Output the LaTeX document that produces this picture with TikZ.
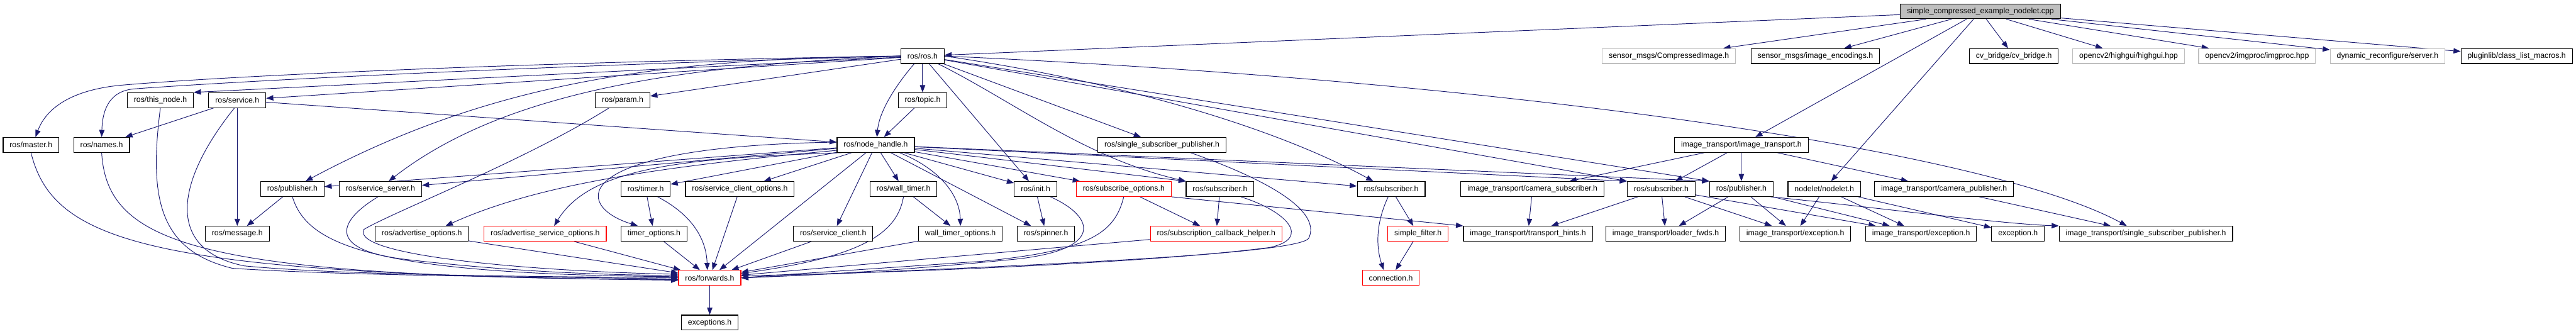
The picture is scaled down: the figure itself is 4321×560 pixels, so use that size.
\documentclass[tikz,border=0pt]{standalone}
\usepackage{fontspec}
\setmainfont{Liberation Sans}
\usepackage{xcolor}
\usepackage{tikz}
\usetikzlibrary{arrows.meta, backgrounds}

\definecolor{edgeblue}{RGB}{25,25,112}
\definecolor{boxred}{RGB}{255,0,0}
\definecolor{boxgray}{RGB}{191,191,191}

\begin{document}
\begin{tikzpicture}[x=1pt, y=1pt,
    file/.style={draw=black, line width=1.2pt, fill=white, inner xsep=11pt, inner ysep=0pt,
        minimum height=25pt, font=\fontsize{13}{15}\selectfont},
    redfile/.style={file, draw=boxred},
    extfile/.style={file, draw=boxgray},
    topfile/.style={file, fill=boxgray},
    incl/.style={draw=edgeblue, line width=1pt, -{Triangle[length=12pt,width=9pt]}}]

    % Kich thuoc toan hinh
    \useasboundingbox (0,0) rectangle (4321,560);

    % Tep nguon o tren cung
    \node[topfile] (main) at (3322,541) {simple\_compressed\_example\_nodelet.cpp};

    % Hang 1
    \node[file]    (rosh) at (1547.5,466) {ros/ros.h};
    \node[extfile] (cimg) at (2799.5,466) {sensor\_msgs/CompressedImage.h};
    \node[file]    (enc)  at (3045,466)   {sensor\_msgs/image\_encodings.h};
    \node[file]    (cvb)  at (3378,466)   {cv\_bridge/cv\_bridge.h};
    \node[extfile] (hgui) at (3570.5,466) {opencv2/highgui/highgui.hpp};
    \node[extfile] (imgp) at (3786,466)   {opencv2/imgproc/imgproc.hpp};
    \node[extfile] (dyn)  at (4005,466)   {dynamic\_reconfigure/server.h};
    \node[file]    (plug) at (4221.5,466) {pluginlib/class\_list\_macros.h};

    % Hang 2
    \node[file] (thisn) at (269,392)    {ros/this\_node.h};
    \node[file] (serv)  at (398,392)    {ros/service.h};
    \node[file] (param) at (1044.5,392) {ros/param.h};
    \node[file] (topic) at (1547.5,392) {ros/topic.h};

    % Hang 3
    \node[file] (master) at (52,317)    {ros/master.h};
    \node[file] (names)  at (170.5,317) {ros/names.h};
    \node[file] (nh)     at (1469,317)  {ros/node\_handle.h};
    \node[file] (ssp)    at (1949,317)  {ros/single\_subscriber\_publisher.h};
    \node[file] (itr)    at (2921,317)  {image\_transport/image\_transport.h};

    % Hang 4
    \node[file]    (pub)     at (490.5,243)  {ros/publisher.h};
    \node[file]    (sserv)   at (638,243)    {ros/service\_server.h};
    \node[file]    (timer)   at (1083,243)   {ros/timer.h};
    \node[file]    (sco)     at (1241,243)   {ros/service\_client\_options.h};
    \node[file]    (wtimer)  at (1515.5,243) {ros/wall\_timer.h};
    \node[file]    (init)    at (1737,243)   {ros/init.h};
    \node[redfile] (subo)    at (1885,243)   {ros/subscribe\_options.h};
    \node[file]    (rsub)    at (2046.5,243) {ros/subscriber.h};
    \node[file]    (msub)    at (2333.5,243) {ros/subscriber.h};
    \node[file]    (camsub)  at (2570.5,243) {image\_transport/camera\_subscriber.h};
    \node[file]    (isub)    at (2786.5,243) {ros/subscriber.h};
    \node[file]    (ipub)    at (2921,243)   {ros/publisher.h};
    \node[file]    (nodelet) at (3060,243)   {nodelet/nodelet.h};
    \node[file]    (campub)  at (3261,243)   {image\_transport/camera\_publisher.h};

    % Hang 5
    \node[file]    (msg)    at (398,168)    {ros/message.h};
    \node[file]    (advo)   at (707.5,168)  {ros/advertise\_options.h};
    \node[redfile] (advso)  at (914.5,168)  {ros/advertise\_service\_options.h};
    \node[file]    (tmo)    at (1097,168)   {timer\_options.h};
    \node[file]    (scl)    at (1397.5,168) {ros/service\_client.h};
    \node[file]    (wto)    at (1611,168)   {wall\_timer\_options.h};
    \node[file]    (spin)   at (1754.5,168) {ros/spinner.h};
    \node[redfile] (sch)    at (2040,168)   {ros/subscription\_callback\_helper.h};
    \node[redfile] (sfilt)  at (2378.5,168) {simple\_filter.h};
    \node[file]    (thints) at (2563,168)   {image\_transport/transport\_hints.h};
    \node[file]    (lfwd)   at (2794,168)   {image\_transport/loader\_fwds.h};
    \node[file]    (iexca)  at (3011.5,168) {image\_transport/exception.h};
    \node[file]    (iexcb)  at (3222.5,168) {image\_transport/exception.h};
    \node[file]    (exc)    at (3385,168)   {exception.h};
    \node[file]    (issp)   at (3599.5,168) {image\_transport/single\_subscriber\_publisher.h};

    % Hang 6 va 7
    \node[redfile] (fwd)  at (1190.5,94) {ros/forwards.h};
    \node[redfile] (conn) at (2333,94)   {connection.h};
    \node[file]    (excs) at (1190.5,19) {exceptions.h};

    \begin{scope}[on background layer]
    % Cac mui ten tu tep nguon
    \draw[incl] (main) -- (rosh);
    \draw[incl] (main) -- (cimg);
    \draw[incl] (main) -- (enc);
    \draw[incl] (main) -- (itr);
    \draw[incl] (main) -- (nodelet);
    \draw[incl] (main) -- (cvb);
    \draw[incl] (main) -- (hgui);
    \draw[incl] (main) -- (imgp);
    \draw[incl] (main) -- (dyn);
    \draw[incl] (main) -- (plug);

    % Cac mui ten tu ros/ros.h
    \draw[incl] (rosh.west) .. controls (900,456) and (400,434) .. (202,417) .. controls (110,408) and (75,372) .. (master.60);
    \draw[incl] (rosh.west) .. controls (900,450) and (400,424) .. (226,411) .. controls (186,408) and (172,380) .. (names.north);
    \draw[incl] (rosh) -- (thisn.north east);
    \draw[incl] (rosh) -- (serv);
    \draw[incl] (rosh) -- (param);
    \draw[incl] (rosh) -- (topic);
    \draw[incl] ([xshift=-14pt]rosh.south) .. controls (1505,420) and (1475,375) .. ([xshift=2pt]nh.north);
    \draw[incl] (rosh.west) .. controls (1100,462) and (820,420) .. ([xshift=22pt]pub.north);
    \draw[incl] (rosh.west) .. controls (1150,450) and (850,410) .. ([xshift=14pt]sserv.north);
    \draw[incl] (rosh) -- (init);
    \draw[incl] (rosh) -- (ssp);
    \draw[incl] (rosh) .. controls (1700,390) and (1820,295) .. (rsub.north west);
    \draw[incl] (rosh.east) .. controls (1900,420) and (2150,340) .. ([xshift=-30pt]msub.north);
    \draw[incl] (rosh) -- (isub.north west);
    \draw[incl] (rosh) -- (ipub.north west);
    \draw[incl] (rosh.east) .. controls (2600,420) and (3350,300) .. ([xshift=-32pt]issp.north);

    % ros/service.h
    \draw[incl] (serv) -- (names);
    \draw[incl] (serv) -- (msg);
    \draw[incl] (serv) -- (nh);
    \draw[incl] (serv.250) .. controls (290,250) and (280,140) .. (410,114) .. controls (600,96) and (1000,96) .. (fwd.west);

    % Ben trai vao ros/forwards.h
    \draw[incl] (master.south) .. controls (90,150) and (260,100) .. ([yshift=-4pt]fwd.west);
    \draw[incl] (names.south) .. controls (180,150) and (330,95) .. ([yshift=-3pt]fwd.west);
    \draw[incl] (thisn.south) .. controls (250,230) and (265,140) .. (390,110) .. controls (600,96) and (1000,95) .. ([yshift=-2pt]fwd.west);
    \draw[incl] (pub.south) .. controls (515,150) and (620,100) .. ([yshift=2pt]fwd.west);
    \draw[incl] ([xshift=-4pt]sserv.south) .. controls (560,185) and (555,140) .. (680,125) .. controls (850,105) and (1000,99) .. ([yshift=4pt]fwd.west);
    \draw[incl] ([xshift=-23pt]param.south) .. controls (880,290) and (660,205) .. (610,175) .. controls (590,130) and (900,105) .. ([yshift=6pt]fwd.west);
    \draw[incl] (advo) -- (fwd);
    \draw[incl] (advso) -- (fwd);
    \draw[incl] (pub) -- (msg);

    % ros/node_handle.h
    \draw[incl] (nh) -- (pub);
    \draw[incl] (nh) -- (sserv);
    \draw[incl] (nh.188) .. controls (1100,280) and (900,250) .. ([xshift=40pt]advo.north);
    \draw[incl] (nh.193) .. controls (1150,295) and (990,280) .. ([xshift=15pt]advso.north);
    \draw[incl] (nh.176) .. controls (950,315) and (960,215) .. ([xshift=-27pt]tmo.north);
    \draw[incl] (nh) -- (timer);
    \draw[incl] (nh) -- (sco);
    \draw[incl] (nh) -- (fwd);
    \draw[incl] (nh) -- (scl);
    \draw[incl] (nh) -- (wtimer);
    \draw[incl] ([xshift=40pt]nh.south) .. controls (1580,275) and (1610,230) .. (wto.north);
    \draw[incl] (nh) -- (spin);
    \draw[incl] (nh) -- (init);
    \draw[incl] (nh) -- (subo);
    \draw[incl] (nh) -- (rsub.north west);
    \draw[incl] (nh) -- (msub);
    \draw[incl] (nh) -- (isub.north west);
    \draw[incl] (nh) -- (ipub.north west);

    % Cac tep ros con lai
    \draw[incl] (topic) -- (nh);
    \draw[incl] (timer) -- (tmo);
    \draw[incl] ([xshift=20pt]timer.south) .. controls (1170,195) and (1185,150) .. ([xshift=-4pt]fwd.north);
    \draw[incl] (tmo) -- (fwd);
    \draw[incl] (sco) -- (fwd);
    \draw[incl] (scl) -- (fwd);
    \draw[incl] (wtimer) -- (wto);
    \draw[incl] (wtimer.south) .. controls (1505,170) and (1450,130) .. (fwd.8);
    \draw[incl] (wto) -- (fwd);
    \draw[incl] (init) -- (spin);
    \draw[incl] ([xshift=25pt]init.south) .. controls (1840,195) and (1850,140) .. (1700,125) .. controls (1500,105) and (1350,98) .. (fwd.east);
    \draw[incl] (subo) -- (sch);
    \draw[incl] (subo.south east) -- (thints.north west);
    \draw[incl] (subo.south) .. controls (1870,170) and (1830,140) .. (1650,122) .. controls (1450,108) and (1320,100) .. (fwd.east);
    \draw[incl] (rsub) -- (sch);
    \draw[incl] ([xshift=35pt]rsub.south) .. controls (2160,205) and (2200,160) .. (2130,145) .. controls (1900,115) and (1400,100) .. (fwd.4);
    \draw[incl] ([xshift=48pt]ssp.south) .. controls (2150,250) and (2215,200) .. (2195,160) .. controls (2170,130) and (1600,110) .. (fwd.east);
    \draw[incl] (sch) -- (fwd);
    \draw[incl] (fwd) -- (excs);

    % Nhanh message_filters
    \draw[incl] ([xshift=-5pt]msub.south) .. controls (2305,180) and (2310,140) .. ([xshift=-12pt]conn.north);
    \draw[incl] (msub) -- (sfilt);
    \draw[incl] (sfilt) -- (conn);

    % Nhanh image_transport
    \draw[incl] (itr) -- (camsub);
    \draw[incl] (itr) -- (isub);
    \draw[incl] (itr) -- (ipub);
    \draw[incl] (itr) -- (campub);
    \draw[incl] (camsub) -- (thints);
    \draw[incl] (isub) -- (thints);
    \draw[incl] (isub) -- (lfwd);
    \draw[incl] (isub) -- (iexca);
    \draw[incl] (isub) -- (iexcb);
    \draw[incl] (ipub) -- (lfwd);
    \draw[incl] (ipub) -- (iexca);
    \draw[incl] (ipub) -- (iexcb);
    \draw[incl] (ipub.-15) .. controls (3150,212) and (3350,185) .. (issp.north west);
    \draw[incl] (nodelet) -- (iexca);
    \draw[incl] (nodelet) -- (iexcb);
    \draw[incl] (nodelet) -- (exc);
    \draw[incl] (campub) -- (issp);
    \end{scope}

\end{tikzpicture}
\end{document}
